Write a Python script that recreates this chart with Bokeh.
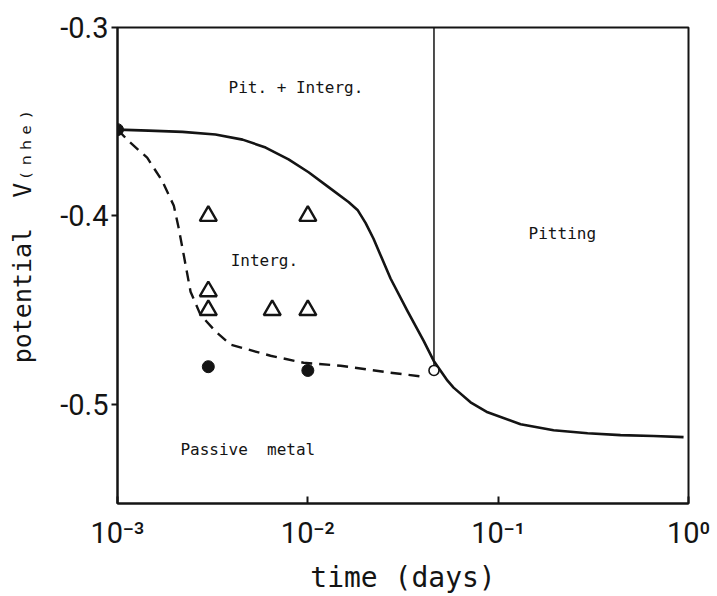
from bokeh.plotting import figure
from bokeh.models import FixedTicker, ColumnDataSource
from bokeh.core.properties import value
from bokeh.embed import file_html
from bokeh.resources import INLINE

# ---- data ----
solid_t = [1.0e-3, 1.455e-3, 2.196e-3, 3.27e-3, 4.54e-3, 6.0e-3, 7.92e-3, 1.009e-2,
           1.285e-2, 1.636e-2, 1.824e-2, 2.01e-2, 2.214e-2, 2.44e-2, 2.72e-2,
           3.34e-2, 4.06e-2, 4.58e-2, 5.42e-2, 5.83e-2, 7.16e-2, 8.80e-2, 0.1312,
           0.1955, 0.2951, 0.4395, 0.656, 0.942]
solid_v = [-0.3542, -0.3547, -0.3554, -0.3568, -0.3595, -0.3637, -0.3700, -0.3768,
           -0.3847, -0.3926, -0.3968, -0.4037, -0.4121, -0.4221, -0.4332,
           -0.4505, -0.4663, -0.4768, -0.4874, -0.4911, -0.4989, -0.5042, -0.5105,
           -0.5137, -0.5153, -0.5163, -0.5168, -0.5174]

dashed_t = [1.0e-3, 1.147e-3, 1.432e-3, 1.717e-3, 1.977e-3, 2.10e-3, 2.23e-3,
            2.42e-3, 2.73e-3, 3.27e-3, 3.93e-3, 6.37e-3, 9.5e-3, 1.486e-2,
            2.72e-2, 4.05e-2]
dashed_v = [-0.3542, -0.3604, -0.3691, -0.3814, -0.3946, -0.4068, -0.4209,
            -0.4402, -0.4525, -0.4612, -0.4683, -0.4742, -0.4779, -0.4795,
            -0.4832, -0.4853]

tri_t = [3e-3, 1e-2, 3e-3, 3e-3, 6.5e-3, 1e-2]
tri_v = [-0.40, -0.40, -0.44, -0.45, -0.45, -0.45]

dot_t = [3e-3, 1e-2]
dot_v = [-0.48, -0.482]

start_t = [1e-3]
start_v = [-0.3542]

open_t = [0.046]
open_v = [-0.482]

boundary_t = [0.046, 0.046]
boundary_v = [-0.30, -0.482]

x_ticks = [1e-3, 1e-2, 1e-1, 1.0]
x_tick_labels = ["10\u207b\u00b3", "10\u207b\u00b2", "10\u207b\u00b9", "10\u2070"]
y_ticks = [-0.5, -0.4, -0.3]
y_tick_labels = ["-0.5", "-0.4", "-0.3"]

region_text = ["Pit. + Interg.", "Interg.", "Pitting", "Passive\u00a0\u00a0metal"]
region_t = [3.83e-3, 3.93e-3, 0.1445, 2.14e-3]
region_v = [-0.3316, -0.4237, -0.4095, -0.5242]

x_title = "time (days)"
y_title = "potential\u00a0\u00a0V\u208d\u2099\u2095\u2091\u208e"

INK = "#141414"
MONO = "DejaVu Sans Mono"

p = figure(width=717, height=596, x_axis_type="log",
           x_range=(1e-3, 1.0), y_range=(-0.5526, -0.3),
           output_backend="svg", toolbar_location=None,
           min_border_left=117, min_border_right=29,
           min_border_top=27, min_border_bottom=89)
p.grid.visible = False
p.outline_line_color = INK
p.outline_line_width = 2
p.background_fill_color = "white"
p.border_fill_color = "white"

xa = p.xaxis[0]
xa.ticker = FixedTicker(ticks=x_ticks, minor_ticks=[])
xa.major_label_overrides = dict(zip(x_ticks, x_tick_labels))
xa.major_tick_in = 7
xa.major_tick_out = 0
xa.minor_tick_in = 0
xa.minor_tick_out = 0
xa.axis_line_width = 2
xa.axis_line_color = INK
xa.major_tick_line_width = 2
xa.major_tick_line_color = INK
xa.major_label_text_font = "Roboto"
xa.major_label_text_font_size = "29px"
xa.major_label_text_color = INK
xa.major_label_standoff = 12
xa.axis_label = x_title
xa.axis_label_text_font = MONO
xa.axis_label_text_font_size = "28px"
xa.axis_label_text_font_style = "normal"
xa.axis_label_text_color = INK
xa.axis_label_standoff = 8

ya = p.yaxis[0]
ya.ticker = FixedTicker(ticks=y_ticks, minor_ticks=[])
ya.major_label_overrides = dict(zip(y_ticks, y_tick_labels))
ya.major_tick_in = 0
ya.major_tick_out = 6
ya.minor_tick_in = 0
ya.minor_tick_out = 0
ya.axis_line_width = 2
ya.axis_line_color = INK
ya.major_tick_line_width = 2
ya.major_tick_line_color = INK
ya.major_label_text_font = "Roboto"
ya.major_label_text_font_size = "29px"
ya.major_label_text_color = INK
ya.major_label_standoff = 3
# leading no-break spaces shift the rotated title upward as in the original
ya.axis_label = "\u00a0" * 4 + y_title
ya.axis_label_text_font = MONO
ya.axis_label_text_font_size = "25px"
ya.axis_label_text_font_style = "normal"
ya.axis_label_text_color = INK
ya.axis_label_standoff = 20

# boundary line
p.line(boundary_t, boundary_v, line_color=INK, line_width=1.5)
# curves
p.line(solid_t, solid_v, line_color=INK, line_width=2.6, line_join="round")
p.line(dashed_t, dashed_v, line_color=INK, line_width=2.4, line_dash="11 7",
       line_join="round")
# markers
p.scatter(tri_t, tri_v, marker="triangle", size=17, fill_color="white",
          line_color=INK, line_width=2.4)
p.scatter(dot_t, dot_v, marker="circle", size=12, fill_color=INK, line_color=INK)
p.scatter(start_t, start_v, marker="circle", size=12, fill_color=INK, line_color=INK)
p.scatter(open_t, open_v, marker="circle", size=10, fill_color="white",
          line_color=INK, line_width=1.6)

src = ColumnDataSource(dict(t=region_t, v=region_v, txt=region_text))
p.text(x="t", y="v", text="txt", source=src, text_font=value(MONO),
       text_font_size="16px", text_color=INK, text_baseline="middle",
       text_align="left")

open("out.html", "w").write(file_html(p, INLINE))
